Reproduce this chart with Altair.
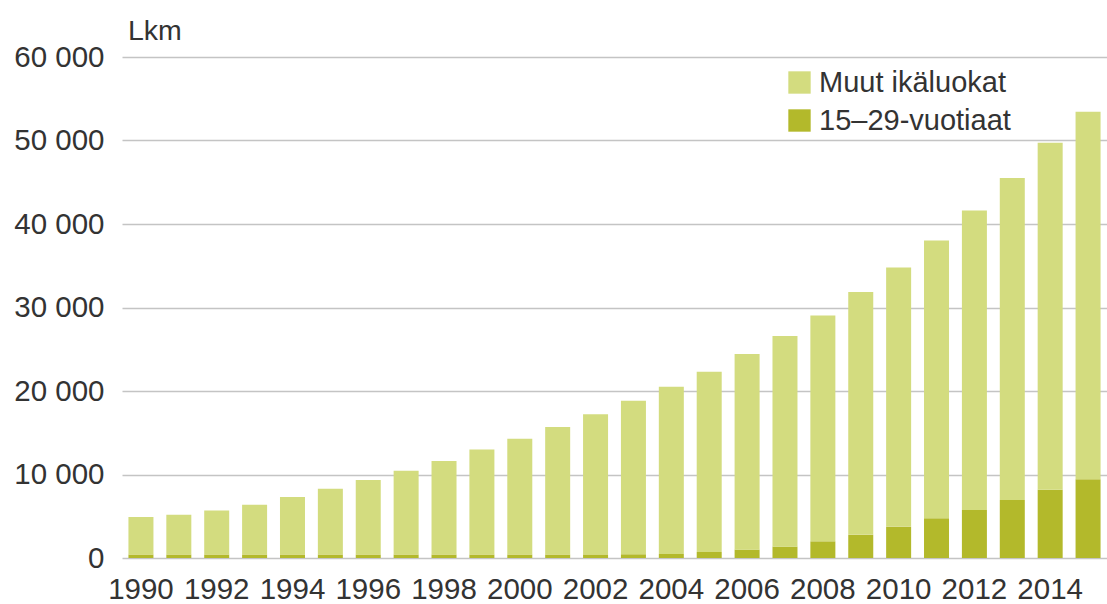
import altair as alt
import pandas as pd

years = [str(y) for y in range(1990, 2016)]

# 15–29-year-olds
nuoret = [420, 420, 420, 420, 420, 420, 420, 420, 420, 420, 420, 420, 430,
          440, 480, 720, 1000, 1360, 2000, 2800, 3760, 4760, 5760, 6960, 8160, 9440]

# all other age groups
muut = [4480, 4770, 5280, 5970, 6880, 7880, 8920, 10030, 11210, 12580, 13860,
        15280, 16800, 18380, 20020, 21580, 23430, 25240, 27050, 29050, 31040,
        33270, 35870, 38560, 41560, 44010]

series_names = ["Muut ikäluokat", "15–29-vuotiaat"]
series_colors = ["#d3dc7f", "#b3b92b"]
tick_years = [str(y) for y in range(1990, 2016, 2)]
unit_label = ["Lkm"]

rows = []
for i, y in enumerate(years):
    rows.append({"vuosi": y, "ryhma": "15–29-vuotiaat", "lkm": nuoret[i], "jarj": 0})
    rows.append({"vuosi": y, "ryhma": "Muut ikäluokat", "lkm": muut[i], "jarj": 1})
df = pd.DataFrame(rows)

FONT = "Liberation Sans"
TXT = "#333333"
FS = 29.5

bars = alt.Chart(df).mark_bar().encode(
    x=alt.X(
        "vuosi:O",
        title=None,
        scale=alt.Scale(paddingInner=0.34, paddingOuter=0.17),
        axis=alt.Axis(
            values=tick_years, labelAngle=0, ticks=False, domain=False,
            labelPadding=17, labelFontSize=FS, labelFont=FONT, labelColor=TXT,
            labelOverlap=False, grid=False,
        ),
    ),
    y=alt.Y(
        "lkm:Q",
        title=None,
        stack="zero",
        scale=alt.Scale(domain=[0, 60000], nice=False),
        axis=alt.Axis(
            values=[0, 10000, 20000, 30000, 40000, 50000, 60000],
            labelExpr="replace(format(datum.value, ','), ',', ' ')",
            ticks=False, domain=False, labelPadding=18,
            labelFontSize=FS, labelFont=FONT, labelColor=TXT,
            grid=True, gridColor="#c4c4c4", gridWidth=1.6,
        ),
    ),
    color=alt.Color(
        "ryhma:N",
        scale=alt.Scale(domain=series_names, range=series_colors),
        legend=alt.Legend(
            title=None, orient="none", legendX=663, legendY=11,
            symbolType="square", symbolSize=500, symbolStrokeWidth=0,
            symbolOpacity=1, labelFontSize=29, labelFont=FONT, labelColor=TXT,
            labelOffset=5, rowPadding=8, labelLimit=0,
        ),
    ),
    order=alt.Order("jarj:Q", sort="ascending"),
)

# unit label above the value axis
unit = alt.Chart(pd.DataFrame({"t": unit_label})).mark_text(
    align="left", baseline="alphabetic", fontSize=28.5, font=FONT, color=TXT,
).encode(x=alt.value(6), y=alt.value(-17), text="t:N")

chart = alt.layer(bars, unit).properties(
    width=985,
    height=501,
    autosize=alt.AutoSizeParams(type="none"),
    padding={"left": 122, "top": 57, "right": 0, "bottom": 46},
).configure_view(stroke=None)

chart.save("out.html", embed_options={"renderer": "svg", "actions": False})
